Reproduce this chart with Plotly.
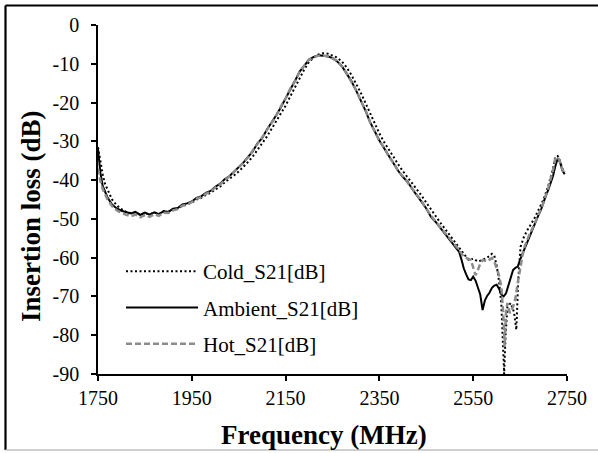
import plotly.graph_objects as go

# ---------------- data ----------------
amb_freq = [1750, 1755, 1760, 1765, 1770, 1780, 1790, 1800, 1810, 1820, 1830, 1840, 1850, 1860, 1870,
            1880, 1890, 1900, 1910, 1920, 1930, 1940, 1950, 1960, 1970, 1980, 1990, 2000, 2010, 2020,
            2030, 2040, 2050, 2060, 2070, 2080, 2090, 2100, 2110, 2120, 2130, 2140, 2150, 2160, 2170,
            2180, 2190, 2200, 2210, 2220, 2230, 2240, 2250, 2260, 2270, 2280, 2290, 2300, 2310, 2320,
            2330, 2340, 2350, 2360, 2370, 2380, 2390, 2400, 2410, 2420, 2430, 2440, 2450, 2460, 2470,
            2480, 2490, 2500, 2510, 2520, 2525, 2530, 2535, 2540, 2545, 2550, 2555, 2560, 2565, 2570,
            2575, 2580, 2585, 2590, 2595, 2600, 2605, 2610, 2615, 2620, 2625, 2630, 2635, 2640, 2645,
            2650, 2655, 2660, 2665, 2670, 2675, 2680, 2685, 2690, 2695, 2700, 2705, 2710, 2715, 2720,
            2725, 2730, 2735, 2740, 2745]
amb_s21 = [-32.0, -38.0, -41.5, -43.2, -44.4, -46.3, -47.3, -47.9, -48.3, -48.6, -48.2, -49.0, -48.4, -48.9, -48.3,
           -48.8, -48.0, -48.2, -47.4, -47.2, -46.3, -46.0, -45.5, -44.6, -44.2, -43.3, -42.8, -41.7, -41.0, -39.8,
           -39.0, -37.8, -36.8, -35.5, -34.0, -32.6, -30.5, -29.2, -27.0, -25.3, -23.3, -21.2, -19.0, -16.5, -14.4,
           -12.0, -10.3, -8.9, -8.2, -7.8, -7.9, -8.1, -8.5, -9.4, -10.6, -12.5, -14.4, -16.8, -19.2, -22.0,
           -25.0, -27.6, -29.8, -31.8, -33.8, -35.6, -37.6, -39.2, -40.4, -42.3, -43.8, -45.6, -47.3, -49.5, -50.8,
           -52.3, -53.8, -55.2, -56.8, -58.5, -60.5, -62.8, -64.3, -65.6, -65.8, -64.9, -65.9, -67.6, -69.5, -73.5,
           -71.0, -69.8, -69.0, -67.8, -67.2, -67.0, -68.0, -69.5, -70.0, -69.2, -67.0, -65.0, -63.2, -62.6, -62.3,
           -60.5, -59.0, -57.5, -56.3, -54.5, -53.0, -51.6, -50.0, -48.8, -47.5, -45.5, -44.0, -42.5, -40.8, -39.0,
           -36.5, -34.5, -35.3, -37.5, -38.5]

cold_freq = [1750, 1755, 1760, 1765, 1770, 1780, 1790, 1800, 1810, 1820, 1830, 1840, 1850, 1860, 1870,
             1880, 1890, 1900, 1910, 1920, 1930, 1940, 1950, 1960, 1970, 1980, 1990, 2000, 2010, 2020,
             2030, 2040, 2050, 2060, 2070, 2080, 2090, 2100, 2110, 2120, 2130, 2140, 2150, 2160, 2170,
             2180, 2190, 2200, 2210, 2220, 2230, 2240, 2250, 2260, 2270, 2280, 2290, 2300, 2310, 2320,
             2330, 2340, 2350, 2360, 2370, 2380, 2390, 2400, 2410, 2420, 2430, 2440, 2450, 2460, 2470,
             2480, 2490, 2500, 2510, 2520, 2530, 2540, 2550, 2560, 2570, 2580, 2590, 2595, 2600, 2605,
             2610, 2613, 2616, 2619, 2623, 2630, 2637, 2642, 2646, 2651, 2658, 2665, 2670, 2680, 2690,
             2700, 2710, 2720, 2725, 2730, 2735, 2740, 2745]
cold_s21 = [-31.5, -35.5, -38.5, -41.0, -42.5, -45.0, -46.5, -47.5, -48.2, -48.5, -48.3, -48.9, -48.5, -48.8, -48.4,
            -48.7, -48.1, -48.2, -47.6, -47.3, -46.6, -46.2, -45.8, -45.0, -44.6, -43.8, -43.3, -42.4, -41.7, -40.6,
            -39.8, -38.8, -37.8, -36.6, -35.3, -33.9, -32.2, -30.6, -28.8, -26.8, -24.9, -22.9, -20.8, -18.4, -16.1,
            -13.6, -11.4, -9.5, -8.4, -7.6, -7.3, -7.4, -7.8, -8.4, -9.4, -10.9, -12.8, -15.0, -17.4, -20.0,
            -22.8, -25.6, -28.0, -30.2, -32.2, -34.0, -35.9, -37.7, -39.2, -40.8, -42.5, -44.0, -45.8, -47.6, -49.5,
            -51.0, -52.6, -54.2, -55.8, -57.4, -59.2, -60.6, -60.3, -61.0, -60.6, -60.0, -59.0, -59.5, -62.0, -66.0,
            -72.0, -80.0, -90.0, -80.0, -72.7, -71.7, -74.0, -78.6, -65.8, -57.2, -54.7, -53.0, -52.0, -50.0, -47.5,
            -45.0, -41.5, -37.0, -34.0, -33.8, -35.0, -37.0, -38.0]

hot_freq = [1750, 1755, 1760, 1765, 1770, 1780, 1790, 1800, 1810, 1820, 1830, 1840, 1850, 1860, 1870,
            1880, 1890, 1900, 1910, 1920, 1930, 1940, 1950, 1960, 1970, 1980, 1990, 2000, 2010, 2020,
            2030, 2040, 2050, 2060, 2070, 2080, 2090, 2100, 2110, 2120, 2130, 2140, 2150, 2160, 2170,
            2180, 2190, 2200, 2210, 2220, 2230, 2240, 2250, 2260, 2270, 2280, 2290, 2300, 2310, 2320,
            2330, 2340, 2350, 2360, 2370, 2380, 2390, 2400, 2410, 2420, 2430, 2440, 2450, 2460, 2470,
            2480, 2490, 2500, 2510, 2520, 2530, 2535, 2540, 2545, 2550, 2555, 2560, 2565, 2570, 2575,
            2580, 2585, 2590, 2595, 2600, 2605, 2610, 2614, 2617, 2620, 2623, 2628, 2635, 2640, 2645,
            2650, 2655, 2660, 2665, 2670, 2680, 2690, 2700, 2710, 2720, 2725, 2730, 2735, 2740, 2745]
hot_s21 = [-37.0, -40.2, -42.3, -43.8, -44.9, -46.7, -47.8, -48.5, -48.8, -49.3, -48.9, -49.6, -49.0, -49.5, -48.8,
           -49.2, -48.4, -48.5, -47.8, -47.5, -46.6, -46.3, -45.7, -44.8, -44.4, -43.5, -43.0, -41.9, -41.2, -40.0,
           -39.1, -37.9, -36.8, -35.5, -34.1, -32.5, -30.6, -29.0, -27.1, -25.2, -23.4, -21.0, -19.0, -16.4, -14.5,
           -12.0, -10.4, -8.9, -8.3, -7.9, -7.9, -8.0, -8.6, -9.3, -10.7, -12.4, -14.6, -16.7, -19.4, -21.8,
           -25.0, -27.4, -29.9, -31.6, -33.9, -35.5, -37.7, -39.0, -40.6, -42.1, -44.0, -45.4, -47.4, -49.2, -50.8,
           -52.2, -53.6, -55.0, -56.5, -58.0, -59.8, -60.1, -60.4, -60.6, -62.5, -64.5, -63.2, -61.5, -60.6, -60.8,
           -61.0, -60.5, -60.1, -61.0, -62.7, -64.5, -67.5, -74.3, -83.0, -74.0, -71.7, -74.3, -72.7, -70.5, -66.5,
           -62.5, -59.5, -57.0, -55.4, -54.0, -51.5, -48.5, -45.8, -42.0, -37.5, -34.5, -34.0, -35.2, -37.2, -38.3]

series_names = ["Cold_S21[dB]", "Ambient_S21[dB]", "Hot_S21[dB]"]
x_ticks = [1750, 1950, 2150, 2350, 2550, 2750]
y_ticks = [0, -10, -20, -30, -40, -50, -60, -70, -80, -90]
x_title = "Frequency (MHz)"
y_title = "Insertion loss (dB)"

FONT = "Liberation Serif, Times New Roman, serif"

fig = go.Figure()
fig.add_trace(go.Scatter(x=cold_freq, y=cold_s21, mode="lines", name=series_names[0],
                         legendgroup="c", line=dict(color="black", width=2, dash="2px,2.5px")))
fig.add_trace(go.Scatter(x=amb_freq, y=amb_s21, mode="lines", name=series_names[1],
                         legendgroup="a", line=dict(color="black", width=2)))
fig.add_trace(go.Scatter(x=hot_freq, y=hot_s21, mode="lines", name=series_names[2],
                         legendgroup="h", line=dict(color="#8c8c8c", width=2.5, dash="6px,3px")))

L, R, T, B = 98, 31, 25, 79
W, H = 598, 453
pw, ph = W - L - R, H - T - B

def px(xp):
    return (xp - L) / pw

def py(yp):
    return (H - B - yp) / ph

fig.update_layout(
    width=W, height=H,
    margin=dict(l=L, r=R, t=T, b=B),
    paper_bgcolor="white", plot_bgcolor="white",
    font=dict(family=FONT, size=20, color="black"),
    showlegend=True,
    legend=dict(x=px(121), y=py(251), xanchor="left", yanchor="top",
                bgcolor="rgba(0,0,0,0)", font=dict(family=FONT, size=21, color="black"),
                traceorder="grouped", tracegroupgap=6, itemwidth=72),
    xaxis=dict(range=[1750, 2750], tickvals=x_ticks, ticktext=[str(v) for v in x_ticks],
               showgrid=False, zeroline=False, showline=True, linecolor="black", linewidth=1.5,
               ticks="outside", ticklen=5, tickcolor="black", tickwidth=1.5,
               tickfont=dict(family=FONT, size=20)),
    yaxis=dict(range=[-90, 0], tickvals=y_ticks, ticktext=[str(v) for v in y_ticks],
               showgrid=False, zeroline=False, showline=True, linecolor="black", linewidth=1.5,
               ticks="outside", ticklen=5, tickcolor="black", tickwidth=1.5,
               ticklabelstandoff=8,
               tickfont=dict(family=FONT, size=20)),
    annotations=[
        dict(text="<b>" + x_title + "</b>", xref="paper", yref="paper", x=px(324), y=py(435),
             xanchor="center", yanchor="middle", showarrow=False,
             font=dict(family=FONT, size=27, color="black")),
        dict(text="<b>" + y_title + "</b>", xref="paper", yref="paper", x=px(31), y=py(216),
             xanchor="center", yanchor="middle", showarrow=False, textangle=-90,
             font=dict(family=FONT, size=27, color="black")),
    ],
    shapes=[
        dict(type="line", xref="paper", yref="paper", x0=px(5.5), x1=px(5.5), y0=py(450), y1=py(5.5),
             line=dict(color="black", width=2.2), layer="above"),
        dict(type="line", xref="paper", yref="paper", x0=px(5.5), x1=px(598), y0=py(5.5), y1=py(5.5),
             line=dict(color="black", width=2.2), layer="above"),
        dict(type="line", xref="paper", yref="paper", x0=px(5.5), x1=px(598), y0=py(450), y1=py(450),
             line=dict(color="#c0c0c0", width=1.6), layer="above"),
    ],
)

fig.write_html("out.html", config={"displayModeBar": False},
               post_script="document.body.style.margin='0';document.body.style.overflow='hidden';")
